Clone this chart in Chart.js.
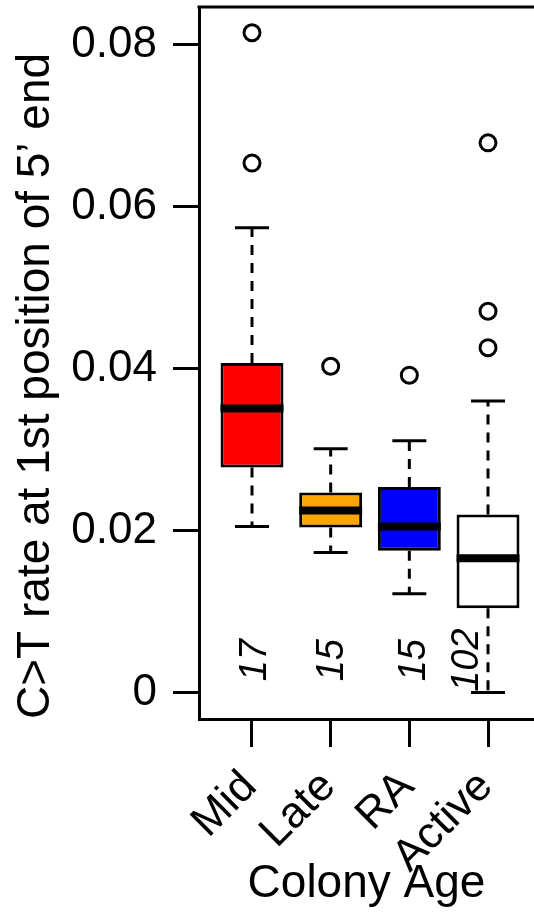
<!DOCTYPE html>
<html>
<head>
<meta charset="utf-8">
<script src="https://cdn.jsdelivr.net/npm/chart.js@4.4.1/dist/chart.umd.min.js"></script>
<style>
  html, body { margin: 0; padding: 0; background: #fff; }
  #wrap { width: 534px; height: 912px; }
</style>
</head>
<body>
<div id="wrap"><canvas id="chart"></canvas></div>
<script>
// Data
const categories = ['Mid', 'Late', 'RA', 'Active'];
const boxColors = ['#ff0000', '#ffa500', '#0000ff', '#ffffff'];
const q1 = [0.0278, 0.0204, 0.0175, 0.0104];
const medians = [0.0351, 0.0225, 0.0205, 0.0166];
const q3 = [0.0407, 0.0247, 0.0254, 0.0220];
const whiskerLow = [0.0205, 0.0173, 0.0122, 0.0000];
const whiskerHigh = [0.0574, 0.0301, 0.0311, 0.0360];
const outliers = [[0.0815, 0.0654], [0.0403], [0.0392], [0.0679, 0.0471, 0.0426]];
const counts = [17, 15, 15, 102];
const yTicks = [0, 0.02, 0.04, 0.06, 0.08];

const FONT = '"Liberation Sans", Arial, Helvetica, sans-serif';
const BOX_HALF = 0.4;
const CAP_HALF = 0.216;
// small pixel nudges for the n= labels (the 102 sits left of its whisker)
const countNudge = [1, 0, 3, -23];

const xs = categories.map((c, i) => i + 1);

const boxData = xs.map((x, i) => ({ x: x, y: [q1[i], q3[i]] }));

const whiskerData = [];
const capData = [];
const medianData = [];
xs.forEach((x, i) => {
    whiskerData.push({ x: x, y: q3[i] }, { x: x, y: whiskerHigh[i] }, { x: x, y: null });
    whiskerData.push({ x: x, y: q1[i] }, { x: x, y: whiskerLow[i] }, { x: x, y: null });
    capData.push({ x: x - CAP_HALF, y: whiskerHigh[i] }, { x: x + CAP_HALF, y: whiskerHigh[i] }, { x: x, y: null });
    capData.push({ x: x - CAP_HALF, y: whiskerLow[i] }, { x: x + CAP_HALF, y: whiskerLow[i] }, { x: x, y: null });
    medianData.push({ x: x - BOX_HALF, y: medians[i] }, { x: x + BOX_HALF, y: medians[i] }, { x: x, y: null });
});

const outlierData = [];
outliers.forEach((list, i) => list.forEach(v => outlierData.push({ x: xs[i], y: v })));

// top frame line + counts written inside the plot
const extras = {
    id: 'extras',
    afterDatasetsDraw(chart) {
        const { ctx, chartArea, scales } = chart;
        ctx.save();
        ctx.strokeStyle = '#000';
        ctx.lineWidth = 3;
        ctx.beginPath();
        ctx.moveTo(chartArea.left - 1.5, chartArea.top);
        ctx.lineTo(chartArea.right + 2, chartArea.top);
        ctx.stroke();

        ctx.fillStyle = '#000';
        ctx.font = 'italic 38px ' + FONT;
        ctx.textAlign = 'center';
        ctx.textBaseline = 'middle';
        counts.forEach((n, i) => {
            const px = scales.x.getPixelForValue(xs[i]) + countNudge[i];
            const py = scales.y.getPixelForValue(0.004);
            ctx.save();
            ctx.translate(px + 2, py);
            ctx.rotate(-Math.PI / 2);
            ctx.fillText(String(n), 0, 0);
            ctx.restore();
        });
        ctx.restore();
    }
};

new Chart(document.getElementById('chart'), {
    type: 'bar',
    data: {
        datasets: [
            {
                type: 'bar',
                data: boxData,
                backgroundColor: boxColors,
                borderColor: '#000',
                borderWidth: 3,
                borderSkipped: false,
                barPercentage: 0.8,
                categoryPercentage: 1,
                grouped: false,
                order: 2
            },
            {
                type: 'line',
                data: whiskerData,
                borderColor: '#000',
                borderWidth: 3,
                borderDash: [10, 8],
                borderCapStyle: 'butt',
                pointRadius: 0,
                spanGaps: false,
                order: 3
            },
            {
                type: 'line',
                data: capData,
                borderColor: '#000',
                borderWidth: 3,
                pointRadius: 0,
                spanGaps: false,
                order: 3
            },
            {
                type: 'line',
                data: medianData,
                borderColor: '#000',
                borderWidth: 8,
                borderCapStyle: 'butt',
                pointRadius: 0,
                spanGaps: false,
                order: 0
            },
            {
                type: 'scatter',
                data: outlierData,
                pointStyle: 'circle',
                pointRadius: 8,
                pointBorderWidth: 3,
                pointBorderColor: '#000',
                pointBackgroundColor: 'rgba(0,0,0,0)',
                order: 1
            }
        ]
    },
    options: {
        responsive: true,
        maintainAspectRatio: false,
        animation: false,
        layout: {
            autoPadding: false,
            padding: { top: 7, left: 0, right: 0, bottom: 0 }
        },
        plugins: {
            legend: { display: false },
            tooltip: { enabled: false }
        },
        scales: {
            x: {
                type: 'linear',
                offset: false,
                min: 0.3263,
                max: 4.5846,
                afterFit(scale) {
                    scale.height = 193;
                    scale.paddingLeft = 0;
                    scale.paddingRight = 0;
                },
                afterBuildTicks(scale) { scale.ticks = xs.map(v => ({ value: v })); },
                border: { display: true, color: '#000', width: 3 },
                grid: {
                    offset: false,
                    drawOnChartArea: false,
                    drawTicks: true,
                    tickLength: 28,
                    color: '#000',
                    lineWidth: 3
                },
                ticks: {
                    autoSkip: false,
                    minRotation: 45,
                    maxRotation: 45,
                    padding: 14,
                    labelOffset: -2,
                    color: '#000',
                    font: { family: FONT, size: 44 },
                    callback: (v) => categories[v - 1]
                },
                title: {
                    display: true,
                    text: 'Colony Age',
                    color: '#000',
                    font: { family: FONT, size: 46 },
                    padding: { top: 0, bottom: 0 }
                }
            },
            y: {
                min: -0.00327,
                max: 0.08468,
                afterFit(scale) {
                    scale.width = 199;
                    scale.paddingTop = 0;
                    scale.paddingBottom = 0;
                },
                afterBuildTicks(scale) { scale.ticks = yTicks.map(v => ({ value: v })); },
                border: { display: true, color: '#000', width: 3 },
                grid: {
                    drawOnChartArea: false,
                    drawTicks: true,
                    tickLength: 26,
                    color: '#000',
                    lineWidth: 3
                },
                ticks: {
                    padding: 16,
                    color: '#000',
                    font: { family: FONT, size: 44 },
                    callback: (v) => v === 0 ? '0' : v.toFixed(2)
                },
                title: {
                    display: true,
                    text: 'C>T rate at 1st position of 5\u2019 end',
                    align: 'start',
                    color: '#000',
                    font: { family: FONT, size: 46 },
                    padding: { top: 9, bottom: 0 }
                }
            }
        }
    },
    plugins: [extras]
});
</script>
</body>
</html>
